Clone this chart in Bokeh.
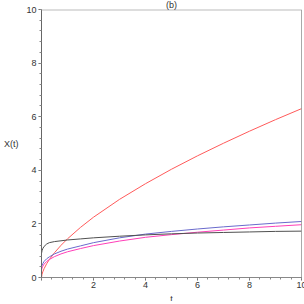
from bokeh.plotting import figure
from bokeh.models import Range1d, FixedTicker, Span
from bokeh.embed import file_html
from bokeh.resources import INLINE

t = [0, 0.02, 0.05, 0.1, 0.2, 0.3, 0.5, 0.75, 1, 1.5, 2, 3, 4, 5, 6, 7, 8, 9, 10]
x_red = [0, 0.118, 0.212, 0.33, 0.515, 0.668, 0.926, 1.20, 1.443, 1.87, 2.25,
         2.915, 3.50, 4.04, 4.54, 5.01, 5.46, 5.89, 6.30]
x_blue = [0.38, 0.45, 0.52, 0.60, 0.70, 0.77, 0.88, 0.98, 1.06, 1.18, 1.30,
          1.48, 1.62, 1.72, 1.81, 1.89, 1.96, 2.03, 2.09]
x_magenta = [0.28, 0.35, 0.42, 0.50, 0.60, 0.67, 0.78, 0.88, 0.96, 1.08, 1.19,
             1.36, 1.50, 1.60, 1.69, 1.77, 1.85, 1.91, 1.97]
x_black = [0.90, 1.00, 1.08, 1.16, 1.25, 1.30, 1.34, 1.37, 1.40, 1.44, 1.48,
           1.54, 1.59, 1.63, 1.66, 1.68, 1.70, 1.72, 1.73]

major_ticks = [0, 2, 4, 6, 8, 10]
minor_ticks = [i * 0.4 for i in range(26)]
title_text = "(b)"
xlabel = "t"
ylabel = "X(t)"

FONT = "Liberation Sans"
TXT = "#333333"
SHIFT = 3  # figure top sits this many px above the page top

p = figure(frame_width=260, frame_height=268, output_backend="svg",
           toolbar_location=None,
           x_range=Range1d(0, 10), y_range=Range1d(0, 10),
           min_border_left=39, min_border_right=5, min_border_top=0,
           min_border_bottom=28, title=title_text)
p.title.align = "center"
p.title.text_font = FONT
p.title.text_font_size = "9px"
p.title.text_font_style = "normal"
p.title.text_color = TXT
p.title.standoff = 0
p.title.offset = 0

p.grid.visible = False
p.outline_line_color = None
p.background_fill_color = "white"
p.border_fill_color = "white"

for ax in (p.xaxis[0], p.yaxis[0]):
    ax.ticker = FixedTicker(ticks=major_ticks, minor_ticks=minor_ticks)
    ax.axis_line_color = "#666666"
    ax.major_tick_line_color = "#666666"
    ax.minor_tick_line_color = "#888888"
    ax.major_tick_in = 0
    ax.major_tick_out = 3
    ax.minor_tick_in = 0
    ax.minor_tick_out = 2
    ax.major_label_text_font = FONT
    ax.major_label_text_font_size = "9px"
    ax.major_label_text_color = TXT
    ax.axis_label_text_font = FONT
    ax.axis_label_text_font_size = "9px"
    ax.axis_label_text_font_style = "normal"
    ax.axis_label_text_color = TXT

xa = p.xaxis[0]
xa.major_label_overrides = {0: ""}
xa.axis_line_color = "#888888"
xa.major_label_standoff = 1
xa.axis_label = xlabel
xa.axis_label_standoff = 3

ya = p.yaxis[0]
ya.major_label_standoff = 2
ya.axis_label = ylabel
ya.axis_label_orientation = "horizontal"
ya.axis_label_standoff = 5

p.line(t, x_red, line_color="#ff5a5a", line_width=1)
p.line(t, x_blue, line_color="#6a6acc", line_width=1)
p.line(t, x_magenta, line_color="#ff3fb8", line_width=1)
p.line(t, x_black, line_color="#505050", line_width=1)

p.add_layout(Span(location=10, dimension="width", line_color="#bbbbbb", line_width=2))
p.add_layout(Span(location=10, dimension="height", line_color="#555555", line_width=1))

html = file_html(p, INLINE)
css = ("<style>html,body{margin:0;padding:0;overflow:hidden;}"
       "body{position:relative;top:-%dpx;}</style></head>" % SHIFT)
html = html.replace("</head>", css, 1)
open("out.html", "w").write(html)
